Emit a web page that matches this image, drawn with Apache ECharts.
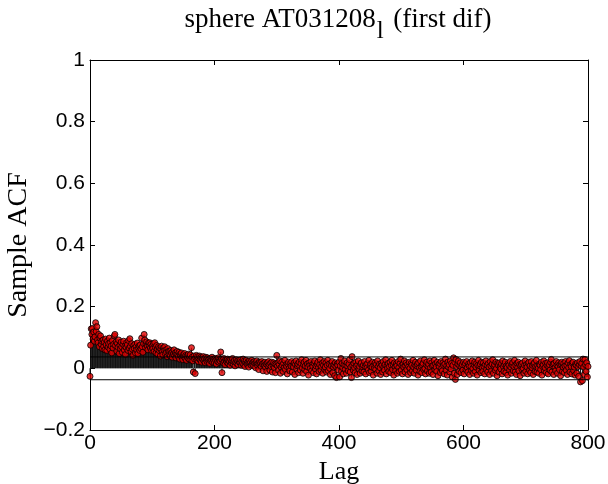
<!DOCTYPE html>
<html>
<head>
<meta charset="utf-8">
<script src="https://cdn.jsdelivr.net/npm/echarts@6/dist/echarts.min.js"></script>
<style>html,body{margin:0;padding:0;background:#fff;}#c{width:608px;height:484px;}</style>
</head>
<body>
<div id="c"></div>
<script>
// Sample ACF values, lag 0..800
const acfLag0 = [-0.026];
const acf001_100 = [
0.075,0.128,0.110,0.129,0.095,0.118,0.088,0.102,0.148,0.120,0.135,0.092,0.083,0.110,0.070,0.098,0.105,0.078,0.088,0.064,
0.092,0.071,0.085,0.060,0.095,0.076,0.058,0.088,0.069,0.080,0.098,0.062,0.084,0.072,0.050,0.090,0.066,0.078,0.105,0.110,
0.074,0.086,0.056,0.080,0.068,0.092,0.048,0.075,0.063,0.085,0.070,0.052,0.078,0.088,0.060,0.072,0.045,0.068,0.083,0.076,
0.058,0.090,0.066,0.096,0.072,0.054,0.080,0.062,0.042,0.074,0.065,0.078,0.050,0.070,0.060,0.082,0.048,0.066,0.073,0.058,
0.076,0.064,0.098,0.070,0.052,0.080,0.110,0.092,0.068,0.078,0.086,0.072,0.060,0.082,0.074,0.083,0.066,0.078,0.058,0.072];
const acf101_200 = [
0.064,0.080,0.055,0.083,0.068,0.050,0.074,0.062,0.046,0.070,0.058,0.066,0.040,0.062,0.072,0.054,0.044,0.066,0.058,0.070,
0.048,0.060,0.052,0.038,0.064,0.055,0.045,0.056,0.040,0.058,0.050,0.036,0.054,0.046,0.060,0.042,0.050,0.034,0.048,0.055,
0.044,0.038,0.052,0.030,0.046,0.040,0.050,0.036,0.028,0.044,0.038,0.048,0.032,0.042,0.026,0.040,0.034,0.046,0.030,0.038,
0.044,0.028,0.067,0.036,0.024,-0.012,0.040,0.030,-0.017,0.034,0.042,0.026,0.038,0.022,0.032,0.040,0.028,0.036,0.020,0.034,
0.030,0.038,0.024,0.032,0.018,0.036,0.028,0.022,0.034,0.026,0.030,0.016,0.032,0.024,0.028,0.036,0.020,0.030,0.025,0.018];
const acf201_300 = [
0.032,0.026,0.014,0.030,0.022,0.034,0.020,0.028,0.024,0.053,0.030,-0.014,0.026,0.018,0.032,0.022,0.012,0.028,0.024,0.020,
0.030,0.016,0.026,0.022,0.010,0.028,0.018,0.024,0.032,0.014,0.022,0.026,0.008,0.020,0.028,0.016,0.024,0.012,0.026,0.020,
0.018,0.028,0.010,0.022,0.016,0.030,0.012,0.024,0.006,0.020,0.026,0.014,0.018,0.022,0.004,0.024,0.016,0.020,0.010,0.026,
0.014,0.020,0.008,0.022,0.016,0.002,0.018,0.024,0.010,0.016,-0.004,0.020,0.012,0.018,0.006,0.022,0.014,-0.008,0.016,0.010,
0.020,0.004,0.014,-0.010,0.018,0.008,0.022,0.012,-0.006,0.016,0.006,0.020,-0.012,0.010,0.018,0.002,0.014,-0.014,0.012,0.042];
const acf301_400 = [
0.008,0.018,-0.006,0.012,0.024,-0.016,0.004,0.020,0.010,-0.010,0.016,0.002,0.026,-0.004,0.012,0.006,-0.018,0.014,0.020,0.000,
-0.008,0.016,0.008,0.022,-0.012,0.010,0.004,0.018,-0.020,0.012,0.024,-0.002,0.008,0.014,-0.014,0.020,0.006,-0.006,0.016,0.028,
0.002,-0.016,0.012,0.020,-0.004,0.008,0.026,-0.010,0.014,0.004,-0.022,0.018,0.010,0.000,0.022,-0.008,0.012,0.006,-0.014,0.016,
0.024,-0.002,0.008,-0.018,0.014,0.020,0.002,-0.010,0.012,0.028,-0.006,0.006,0.016,-0.016,0.010,0.022,-0.004,0.004,0.018,-0.012,
0.010,0.026,-0.008,0.014,0.000,-0.020,0.016,0.008,0.022,-0.014,0.004,0.012,-0.024,0.018,0.006,-0.030,0.014,0.010,-0.006,0.020];
const acf401_500 = [
-0.028,0.008,0.032,-0.010,0.016,0.002,-0.018,0.012,0.024,-0.004,0.010,-0.016,0.018,0.006,-0.008,0.014,0.028,-0.012,0.004,-0.030,
0.038,0.010,-0.006,0.016,0.002,-0.014,0.020,0.008,-0.020,0.012,0.024,-0.002,0.006,-0.016,0.014,0.018,-0.008,0.004,0.010,-0.012,
0.022,0.006,-0.018,0.012,0.002,0.016,-0.006,0.026,-0.014,0.008,0.014,-0.010,0.004,0.020,-0.022,0.010,0.000,0.018,-0.004,0.012,
-0.016,0.024,0.006,-0.008,0.014,0.002,-0.020,0.016,0.010,-0.012,0.022,0.004,-0.006,0.012,0.028,-0.018,0.008,0.000,0.016,-0.010,
0.006,0.020,-0.014,0.010,0.026,-0.004,0.012,-0.022,0.018,0.004,-0.008,0.014,0.008,-0.016,0.022,0.002,-0.010,0.016,0.030,-0.006];
const acf501_600 = [
0.010,-0.018,0.014,0.004,0.024,-0.012,0.008,0.018,-0.004,0.012,-0.020,0.006,0.020,0.000,-0.014,0.016,0.010,-0.008,0.026,0.004,
-0.016,0.012,0.020,-0.006,0.008,0.014,-0.022,0.018,0.002,-0.010,0.024,0.006,-0.014,0.010,0.016,-0.004,0.028,0.000,-0.018,0.012,
0.020,-0.008,0.006,0.014,-0.016,0.024,0.002,-0.012,0.018,0.008,-0.020,0.010,0.026,-0.004,0.014,0.004,-0.010,0.020,-0.024,0.012,
0.006,0.016,-0.014,0.022,0.000,-0.008,0.018,0.010,-0.018,0.014,0.030,-0.006,0.008,-0.022,0.020,0.004,0.012,-0.012,0.024,-0.002,
0.016,-0.028,0.010,0.034,-0.016,0.020,-0.036,0.029,0.006,-0.020,0.014,0.024,-0.010,0.008,0.018,-0.014,0.004,0.012,-0.006,0.020];
const acf601_700 = [
-0.018,0.010,0.016,-0.004,0.022,0.002,-0.012,0.014,0.008,-0.020,0.018,0.006,-0.008,0.024,0.000,-0.016,0.012,0.020,-0.010,0.004,
0.016,-0.022,0.010,0.026,-0.006,0.008,0.014,-0.014,0.020,0.002,-0.010,0.018,0.006,-0.018,0.012,0.024,-0.004,0.010,-0.012,0.016,
0.004,-0.020,0.022,0.008,-0.008,0.014,0.028,-0.016,0.006,0.012,-0.006,0.020,0.000,-0.024,0.016,0.010,-0.012,0.018,0.004,-0.002,
0.014,-0.018,0.024,0.006,-0.010,0.012,0.020,-0.014,0.008,0.002,-0.022,0.016,0.010,-0.006,0.022,0.004,-0.016,0.012,0.018,-0.008,
0.006,0.026,-0.012,0.010,-0.020,0.016,0.002,0.020,-0.008,0.012,-0.024,0.008,0.014,-0.004,0.018,0.000,-0.016,0.010,0.024,-0.010];
const acf701_800 = [
0.012,0.004,-0.018,0.016,0.020,-0.006,0.008,-0.014,0.022,0.002,0.010,-0.020,0.014,0.018,-0.010,0.006,0.026,-0.012,0.008,0.000,
-0.016,0.014,0.010,-0.004,0.020,-0.022,0.006,0.012,0.024,-0.008,0.002,0.016,-0.014,0.010,0.018,-0.018,0.004,0.012,-0.006,0.020,
0.029,-0.012,0.008,0.014,-0.020,0.016,0.002,-0.008,0.022,0.010,-0.016,0.006,0.018,-0.004,0.012,-0.024,0.014,0.020,-0.010,0.004,
0.016,-0.014,0.008,0.022,-0.006,0.010,-0.020,0.018,0.002,0.025,-0.012,0.012,0.006,-0.018,0.016,0.020,-0.008,0.004,-0.022,0.014,
0.010,-0.016,0.018,0.006,-0.026,0.012,0.022,-0.044,0.008,0.016,-0.040,0.030,0.004,-0.020,0.029,0.012,-0.010,0.018,-0.028,0.006];
const confBound = 0.037;
const maxLag = 800;
const xTicks = [0, 200, 400, 600, 800];
const yTicks = [-0.2, 0, 0.2, 0.4, 0.6, 0.8, 1];

const acf = acfLag0.concat(acf001_100, acf101_200, acf201_300, acf301_400, acf401_500, acf501_600, acf601_700, acf701_800);
const pts = acf.map((v, i) => [i, v]);

const chart = echarts.init(document.getElementById('c'), null, {renderer: 'canvas'});
const tickFont = {fontFamily: 'Liberation Sans', fontSize: 21, color: '#000'};
const fmt = v => String(v).replace('-', '\u2212');
const line = {show: true, onZero: false, lineStyle: {color: '#000', width: 1}};
const tick = {show: true, inside: true, length: 5, lineStyle: {color: '#000'}};
const baseAxisX = {type: 'value', min: 0, max: maxLag, interval: 200, splitLine: {show: false},
  axisLine: line, axisTick: tick};
const baseAxisY = {type: 'value', min: -0.2, max: 1, interval: 0.2, splitLine: {show: false},
  axisLine: line, axisTick: tick};

chart.setOption({
  animation: false,
  backgroundColor: '#fff',
  grid: {left: 90, right: 20, top: 60, bottom: 54, containLabel: false, outerBoundsMode: 'none'},
  graphic: [{
    type: 'text', x: 338, y: 6,
    style: {
      text: '{a|sphere AT031208}{s|l}{a| (first dif)}',
      textAlign: 'center', textVerticalAlign: 'top',
      rich: {
        a: {fontFamily: 'Liberation Serif', fontSize: 27, color: '#000', verticalAlign: 'top'},
        s: {fontFamily: 'Liberation Serif', fontSize: 25, color: '#000', verticalAlign: 'top', padding: [13, 3, 0, 1]}
      }
    }
  }],
  xAxis: [
    Object.assign({}, baseAxisX, {position: 'bottom', name: 'Lag', nameLocation: 'middle', nameGap: 25,
      nameTextStyle: {fontFamily: 'Liberation Serif', fontSize: 26, color: '#000'},
      axisLabel: Object.assign({margin: 3, formatter: fmt}, tickFont)}),
    Object.assign({}, baseAxisX, {position: 'top', axisLabel: {show: false}})
  ],
  yAxis: [
    Object.assign({}, baseAxisY, {position: 'left', name: 'Sample ACF', nameLocation: 'middle', nameGap: 49,
      nameTextStyle: {fontFamily: 'Liberation Serif', fontSize: 28, color: '#000'},
      axisLabel: Object.assign({margin: 5, formatter: fmt}, tickFont)}),
    Object.assign({}, baseAxisY, {position: 'right', axisLabel: {show: false}})
  ],
  series: [
    {type: 'bar', data: pts, barWidth: 1, itemStyle: {color: '#111'}, silent: true, z: 2},
    {type: 'scatter', data: pts, symbol: 'circle', symbolSize: 6,
      itemStyle: {color: '#e00000', borderColor: '#000', borderWidth: 1}, z: 3},
    {type: 'line', data: [[0, confBound], [maxLag, confBound]], symbol: 'none',
      lineStyle: {color: '#000', width: 1}, z: 4},
    {type: 'line', data: [[0, -confBound], [maxLag, -confBound]], symbol: 'none',
      lineStyle: {color: '#000', width: 1}, z: 4},
    {type: 'line', xAxisIndex: 1, yAxisIndex: 1, data: [], silent: true}
  ]
});
</script>
</body>
</html>
